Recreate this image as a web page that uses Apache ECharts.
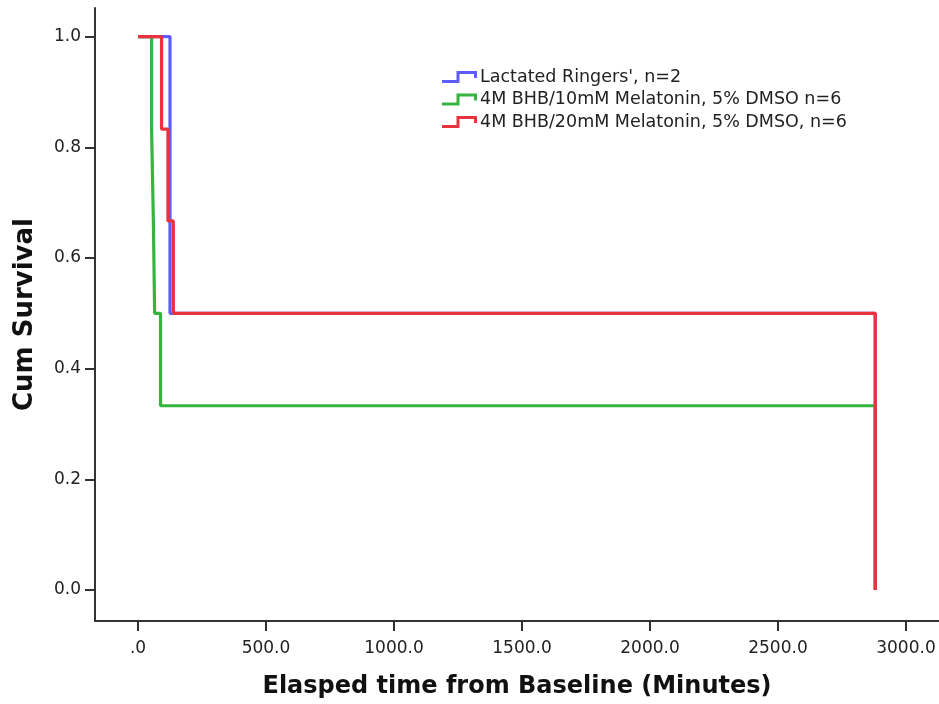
<!DOCTYPE html>
<html>
<head>
<meta charset="utf-8">
<script src="https://cdn.jsdelivr.net/npm/echarts@6/dist/echarts.min.js"></script>
<style>
  html, body { margin: 0; padding: 0; background: #fff; }
  #chart { width: 939px; height: 704px; }
</style>
</head>
<body>
<div id="chart"></div>
<script>
// survival steps (time in minutes, cum survival)
var lrTimes    = [0, 125, 2880];
var lrSurv     = [1.0, 0.5, 0.0];
var bhb10Times = [0, 53, 60, 65, 88, 2880];
var bhb10Surv  = [1.0, 0.833, 0.667, 0.5, 0.333, 0.0];
var bhb20Times = [0, 92, 117, 138, 2880];
var bhb20Surv  = [1.0, 0.833, 0.667, 0.5, 0.0];

var seriesNames = ["Lactated Ringers', n=2", "4M BHB/10mM Melatonin, 5% DMSO n=6", "4M BHB/20mM Melatonin, 5% DMSO, n=6"];
var xTicks = [0, 500, 1000, 1500, 2000, 2500, 3000];
var yTicks = [0, 0.2, 0.4, 0.6, 0.8, 1.0];

function pairs(t, s) {
	var out = [];
	for (var i = 0; i < t.length; i++) {
		out.push([t[i], s[i]]);
	}
	return out;
}

// step shaped legend icon (thick polyline as a filled path)
var stepIcon = 'path://M0,9 L14.5,9 L14.5,0 L35,0 L35,7 L32,7 L32,3 L17.5,3 L17.5,12 L0,12 Z';

var myChart = echarts.init(document.getElementById('chart'));
var axisCol = '#333';
var option = {
	animation: false,
	backgroundColor: '#fff',
	grid: {
		left: 95,
		right: 0,
		top: 8,
		bottom: 81
	},
	legend: {
		orient: 'vertical',
		left: 437,
		top: 63,
		itemWidth: 35,
		itemHeight: 12,
		itemGap: 4.5,
		icon: stepIcon,
		itemStyle: { borderWidth: 0 },
		textStyle: {
			fontFamily: 'DejaVu Sans',
			fontSize: 17.5,
			color: '#222',
			padding: [0, 0, 0, -2]
		},
		data: seriesNames
	},
	xAxis: {
		type: 'value',
		min: -168,
		max: 3129,
		name: 'Elasped time from Baseline (Minutes)',
		nameLocation: 'middle',
		nameGap: 54,
		nameTextStyle: {
			fontFamily: 'DejaVu Sans',
			fontWeight: 'bold',
			fontSize: 24,
			color: '#111'
		},
		splitLine: { show: false },
		axisLine: { onZero: false, lineStyle: { color: axisCol, width: 2 } },
		axisTick: {
			customValues: xTicks,
			length: 10,
			lineStyle: { color: axisCol, width: 2 }
		},
		axisLabel: {
			customValues: xTicks,
			margin: 19,
			fontFamily: 'DejaVu Sans',
			fontSize: 17,
			color: '#222',
			formatter: function (v) {
				return v === 0 ? '.0' : v.toFixed(1);
			}
		}
	},
	yAxis: {
		type: 'value',
		min: -0.0559,
		max: 1.0517,
		name: 'Cum Survival',
		nameLocation: 'middle',
		nameGap: 57,
		nameTextStyle: {
			fontFamily: 'DejaVu Sans',
			fontWeight: 'bold',
			fontSize: 26,
			color: '#111'
		},
		splitLine: { show: false },
		axisLine: { onZero: false, lineStyle: { color: axisCol, width: 2 } },
		axisTick: {
			customValues: yTicks,
			length: 10,
			lineStyle: { color: axisCol, width: 2 }
		},
		axisLabel: {
			customValues: yTicks,
			margin: 14,
			fontFamily: 'DejaVu Sans',
			fontSize: 17,
			color: '#222',
			formatter: function (v) {
				return v.toFixed(1);
			}
		}
	},
	series: [
		{
			name: seriesNames[0],
			type: 'line',
			step: 'end',
			symbol: 'none',
			color: '#5c5cff',
			lineStyle: { width: 3.2 },
			data: pairs(lrTimes, lrSurv)
		},
		{
			name: seriesNames[1],
			type: 'line',
			step: 'end',
			symbol: 'none',
			color: '#35b540',
			lineStyle: { width: 3.2 },
			data: pairs(bhb10Times, bhb10Surv)
		},
		{
			name: seriesNames[2],
			type: 'line',
			step: 'end',
			symbol: 'none',
			color: '#e8323c',
			lineStyle: { width: 3.2 },
			data: pairs(bhb20Times, bhb20Surv)
		}
	]
};
myChart.setOption(option);
</script>
</body>
</html>
